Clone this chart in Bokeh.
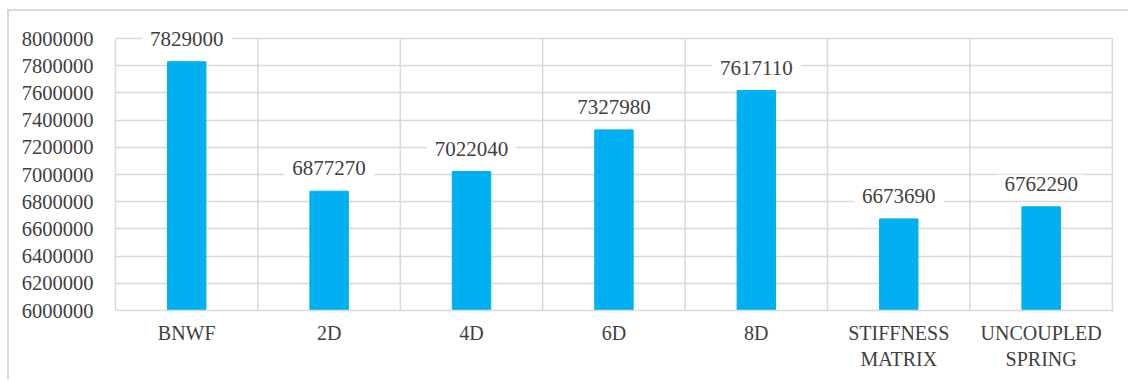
import numpy as np
from bokeh.plotting import figure
from bokeh.models import FixedTicker, ColumnDataSource, Range1d, BasicTickFormatter
from bokeh.core.properties import value
from bokeh.embed import file_html
from bokeh.resources import INLINE

# Peak values per model
categories = ["BNWF", "2D", "4D", "6D", "8D", "STIFFNESS\nMATRIX", "UNCOUPLED\nSPRING"]
peak_values = [7829000, 6877270, 7022040, 7327980, 7617110, 6673690, 6762290]
y_ticks = [6000000, 6200000, 6400000, 6600000, 6800000, 7000000,
           7200000, 7400000, 7600000, 7800000, 8000000]

GRID = "#D9D9D9"
TEXT = "#404040"
FONT = "Times New Roman"

n = len(categories)
y_lo, y_hi = y_ticks[0], y_ticks[-1]
# head room above the top gridline so value labels sitting on it are not clipped
plot_h = 272
head = 20
y_top = y_hi + (y_hi - y_lo) * head / plot_h

# one unit-wide slot per category, bar in the middle of its slot
centers = [i + 0.5 for i in range(n)]
edges = list(range(1, n + 1))
src = ColumnDataSource(dict(x=centers, top=peak_values,
                            label=[str(v) for v in peak_values]))

p = figure(width=1121, height=370, output_backend="svg", toolbar_location=None,
           x_range=Range1d(0, n + 0.008), y_range=Range1d(y_lo, y_top),
           min_border_left=106, min_border_right=17, min_border_top=27 - head,
           min_border_bottom=71, margin=(9, 0, 0, 7))
p.styles = {"border-top": f"2px solid {GRID}", "border-left": f"2px solid {GRID}"}
p.background_fill_color = "white"
p.border_fill_color = "white"
p.outline_line_color = None

# vertical separators between category slots
p.segment(x0=edges, y0=[y_lo] * n, x1=edges, y1=[y_hi] * n,
          line_color=GRID, line_width=1.5)

p.vbar(x="x", top="top", bottom=y_lo, width=0.27, source=src,
       fill_color="#00B0F0", line_color="#00B0F0")

# value labels above the bars, on a white box that hides the grid behind them
p.text(x="x", y="top", text="label", source=src, y_offset=-23,
       text_align="center", text_baseline="middle",
       text_font=value(FONT), text_font_size="21px", text_color=TEXT,
       background_fill_color="white", padding=dict(left=8, right=8, top=2, bottom=2))

p.ygrid.ticker = FixedTicker(ticks=y_ticks)
p.ygrid.grid_line_color = GRID
p.ygrid.grid_line_width = 1.5
p.xgrid.visible = False

p.yaxis.ticker = FixedTicker(ticks=y_ticks)
p.yaxis.formatter = BasicTickFormatter(use_scientific=False)
p.yaxis.bounds = (y_lo, y_hi)
p.xaxis.ticker = FixedTicker(ticks=centers)
p.xaxis.major_label_overrides = {c: name for c, name in zip(centers, categories)}

for ax in (p.xaxis[0], p.yaxis[0]):
    ax.axis_line_color = GRID
    ax.axis_line_width = 1.5
    ax.major_tick_line_color = None
    ax.minor_tick_line_color = None
    ax.major_label_text_font = FONT
    ax.major_label_text_font_size = "20px"
    ax.major_label_text_color = TEXT

p.yaxis.major_label_text_font_size = "20.5px"
p.yaxis.major_label_standoff = 16
p.xaxis.major_label_standoff = 5

open("out.html", "w").write(file_html(p, INLINE))
